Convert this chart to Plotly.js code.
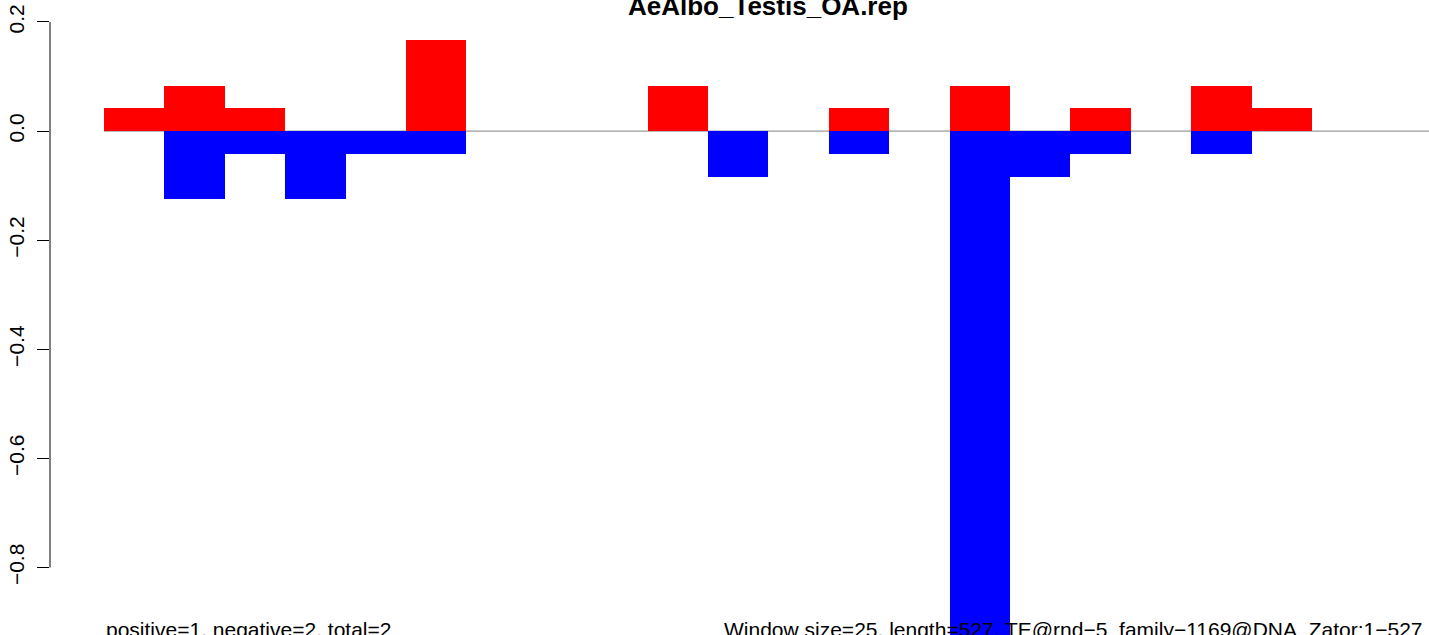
<!DOCTYPE html>
<html>
<head>
<meta charset="utf-8">
<script src="https://cdn.plot.ly/plotly-3.0.1.min.js"></script>
<style>html,body{margin:0;padding:0;background:#fff;}#chart{width:1429px;height:635px;}</style>
</head>
<body>
<div id="chart"></div>
<script>
// Window index (each window = 25 bp)
var windows = [0,1,2,3,4,5,6,7,8,9,10,11,12,13,14,15,16,17,18,19,20,21];
// Positive-strand values (red)
var positive = [0.0417,0.0833,0.0417,0,0,0.1667,0,0,0,0.0833,0,0,0.0417,0,0.0833,0,0.0417,0,0.0833,0.0417,0,0];
// Negative-strand values (blue)
var negative = [0,-0.125,-0.0417,-0.125,-0.0417,-0.0417,0,0,0,0,-0.0833,0,-0.0417,0,-1.0,-0.0833,-0.0417,0,-0.0417,0,0,0];
var yTicks = [0.2,0.0,-0.2,-0.4,-0.6,-0.8];
var yTickText = ['0.2','0.0','\u22120.2','\u22120.4','\u22120.6','\u22120.8'];
var titleText = 'AeAlbo_Testis_OA.rep';
var leftNote = 'positive=1, negative=2, total=2';
var rightNote = 'Window size=25, length=527, TE@rnd\u22125_family\u22121169@DNA_Zator:1\u2212527';

var xc = windows.map(function(i){return i+0.5;});
var traces = [
  {type:'bar', x:xc, y:positive, width:1, marker:{color:'#ff0000', line:{width:0}}, hoverinfo:'none'},
  {type:'bar', x:xc, y:negative, width:1, marker:{color:'#0000ff', line:{width:0}}, hoverinfo:'none'}
];
var font = 'Liberation Sans, Arial, Helvetica, sans-serif';
var layout = {
  width:1429, height:635,
  margin:{l:50, r:0, t:0, b:0, pad:0},
  paper_bgcolor:'#ffffff', plot_bgcolor:'#ffffff',
  showlegend:false, barmode:'overlay', bargap:0,
  font:{family:font, color:'#000', size:21},
  xaxis:{range:[-0.894, 21.937], visible:false, showgrid:false, zeroline:false, fixedrange:true},
  yaxis:{range:[-0.9237, 0.2403], showgrid:false, zeroline:false, showline:false,
         tickmode:'array', tickvals:yTicks, ticktext:yTickText,
         ticks:'outside', ticklen:12, tickwidth:1, tickcolor:'#000',
         ticklabelstandoff:5,
         tickangle:-90, tickfont:{family:font, size:21, color:'#000'}, fixedrange:true},
  shapes:[
    {type:'line', xref:'paper', yref:'y', x0:0, x1:0, y0:-0.8, y1:0.2, line:{color:'#000', width:1}},
    {type:'line', xref:'x', yref:'y', x0:0, x1:22.88, y0:0, y1:0, layer:'below', line:{color:'#808080', width:1}}
  ],
  annotations:[
    {text:'<b>'+titleText+'</b>', xref:'x', yref:'paper', x:11, y:1-5.5/635, xanchor:'center', yanchor:'middle', showarrow:false, font:{family:font, size:26, color:'#000'}},
    {text:leftNote, xref:'x', yref:'paper', x:0, y:1-629.5/635, xanchor:'left', yanchor:'middle', showarrow:false, font:{family:font, size:21, color:'#000'}},
    {text:rightNote, xref:'x', yref:'paper', x:(722-104)/60.4, y:1-629.5/635, xanchor:'left', yanchor:'middle', showarrow:false, font:{family:font, size:21, color:'#000'}}
  ]
};
Plotly.newPlot('chart', traces, layout, {staticPlot:true, displayModeBar:false});
</script>
</body>
</html>
